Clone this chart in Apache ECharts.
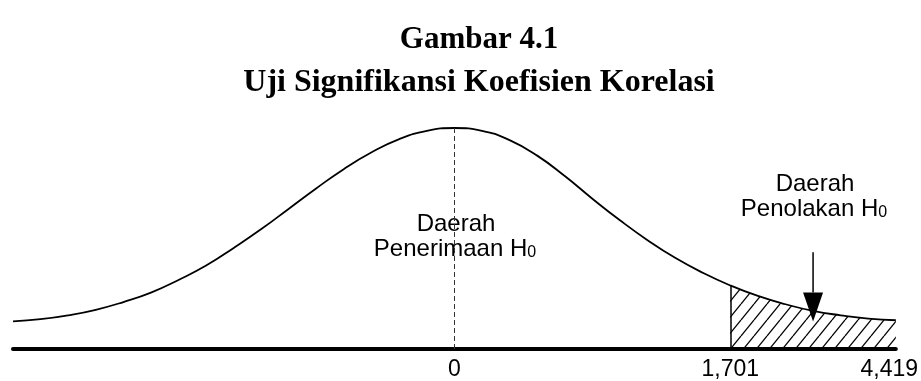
<!DOCTYPE html>
<html>
<head>
<meta charset="utf-8">
<script src="https://cdn.jsdelivr.net/npm/echarts@6/dist/echarts.min.js"></script>
<style>
  html,body{margin:0;padding:0;background:#fff}
  #chart{width:921px;height:381px}
</style>
</head>
<body>
<div id="chart"></div>
<script>
// kurva normal (x: posisi relatif, y: tinggi kurva)
const curveX = [-4.00,-3.75,-3.50,-3.25,-3.00,-2.75,-2.50,-2.25,-2.00,-1.75,-1.50,-1.25,-1.00,-0.75,-0.50,-0.25,
                0.00,0.25,0.50,0.75,1.00,1.25,1.50,1.75,2.00,2.25,2.50,2.75,3.00,3.25,3.50,3.75,4.00]
const curveY = [0.050,0.054,0.061,0.071,0.085,0.102,0.125,0.151,0.183,0.217,0.254,0.291,0.326,0.356,0.380,0.395,
                0.400,0.395,0.378,0.350,0.313,0.272,0.233,0.197,0.165,0.138,0.115,0.096,0.081,0.069,0.061,0.055,0.052]

// label sumbu x (posisi di gambar tidak sesuai skala nilai)
const tickX      = [0, 2.5, 3.94]
const tickLabels = ['0', '1,701', '4,419']

const critX = 2.5             // batas daerah penolakan (t tabel 1,701)
const arrowX = 3.25, arrowTop = 0.175, arrowTip = 0.050

const curve = curveX.map((x,i)=>[x, curveY[i]])
const tail  = curve.filter(d=>d[0] >= critX)
const critY = curveY[curveX.indexOf(critX)]

// pola arsir miring
function hatch(){
  const w = 13, h = 16
  const c = document.createElement('canvas'); c.width = w; c.height = h
  const g = c.getContext('2d')
  g.strokeStyle = '#000'; g.lineWidth = 1.3
  for(const dx of [-w,0,w]){ g.beginPath(); g.moveTo(dx, h); g.lineTo(dx+w, 0); g.stroke() }
  return c
}

const sans = '"Liberation Sans", Arial, sans-serif'
const serif = '"Liberation Serif", "Times New Roman", serif'

const chart = echarts.init(document.getElementById('chart'), null, {renderer:'canvas'})
chart.setOption({
  animation:false,
  backgroundColor:'#fff',
  title:[
    {text:'Gambar 4.1', left:474, top:19, textAlign:'center',
     textStyle:{fontFamily:serif, fontWeight:'bold', fontSize:31, color:'#000'}},
    {text:'Uji Signifikansi Koefisien Korelasi', left:474, top:62, textAlign:'center',
     textStyle:{fontFamily:serif, fontWeight:'bold', fontSize:32, color:'#000'}}
  ],
  grid:{left:13, right:23, top:128, bottom:31},
  xAxis:{
    type:'value', min:-4, max:4,
    axisLine:{lineStyle:{color:'#000', width:4}},
    axisTick:{show:false},
    splitLine:{show:false},
    axisLabel:{customValues:tickX, formatter:v=>tickLabels[tickX.indexOf(v)] ?? '',
      color:'#000', fontFamily:sans, fontSize:23, margin:9, hideOverlap:false}
  },
  yAxis:{type:'value', min:0, max:0.4, show:false},
  series:[
    {type:'line', data:curve, smooth:0.5, showSymbol:false, z:3,
     lineStyle:{color:'#000', width:1.8},
     markLine:{silent:true, symbol:'none', label:{show:false},
       lineStyle:{color:'#333', width:1, type:[5,3]},
       data:[[{coord:[0,0]},{coord:[0,0.4]}]]}},
    {type:'line', data:tail, smooth:0.5, showSymbol:false, z:2,
     lineStyle:{width:0},
     areaStyle:{color:{image:hatch(), repeat:'repeat'}, opacity:1},
     markLine:{silent:true, symbol:'none', label:{show:false},
       lineStyle:{color:'#000', width:1.5, type:'solid'},
       data:[[{coord:[critX,0]},{coord:[critX,critY]}]]}},
    {type:'custom', z:4, data:[[arrowX, arrowTop, arrowTip]],
     renderItem:(params, api)=>{
       const top = api.coord([api.value(0), api.value(1)])
       const tip = api.coord([api.value(0), api.value(2)])
       const hw = 10, hh = 29
       return {type:'group', children:[
         {type:'line', shape:{x1:top[0], y1:top[1], x2:tip[0], y2:tip[1]-hh},
          style:{stroke:'#000', lineWidth:1.5}},
         {type:'polygon', shape:{points:[[tip[0],tip[1]],[tip[0]-hw,tip[1]-hh],[tip[0]+hw,tip[1]-hh]]},
          style:{fill:'#000'}}
       ]}
     }}
  ],
  graphic:[
    {type:'text', x:456, y:224, style:{text:'Daerah', align:'center', verticalAlign:'middle',
      font:'24px '+sans, fill:'#000'}},
    {type:'text', x:455, y:249, style:{text:'{n|Penerimaan H}{s|0}', align:'center', verticalAlign:'middle',
      rich:{n:{fontFamily:sans, fontSize:24, color:'#000', verticalAlign:'bottom'},
            s:{fontFamily:sans, fontSize:16, color:'#000', verticalAlign:'bottom'}}}},
    {type:'text', x:815, y:184, style:{text:'Daerah', align:'center', verticalAlign:'middle',
      font:'24px '+sans, fill:'#000'}},
    {type:'text', x:814, y:209, style:{text:'{n|Penolakan H}{s|0}', align:'center', verticalAlign:'middle',
      rich:{n:{fontFamily:sans, fontSize:24, color:'#000', verticalAlign:'bottom'},
            s:{fontFamily:sans, fontSize:16, color:'#000', verticalAlign:'bottom'}}}}
  ]
})
</script>
</body>
</html>
